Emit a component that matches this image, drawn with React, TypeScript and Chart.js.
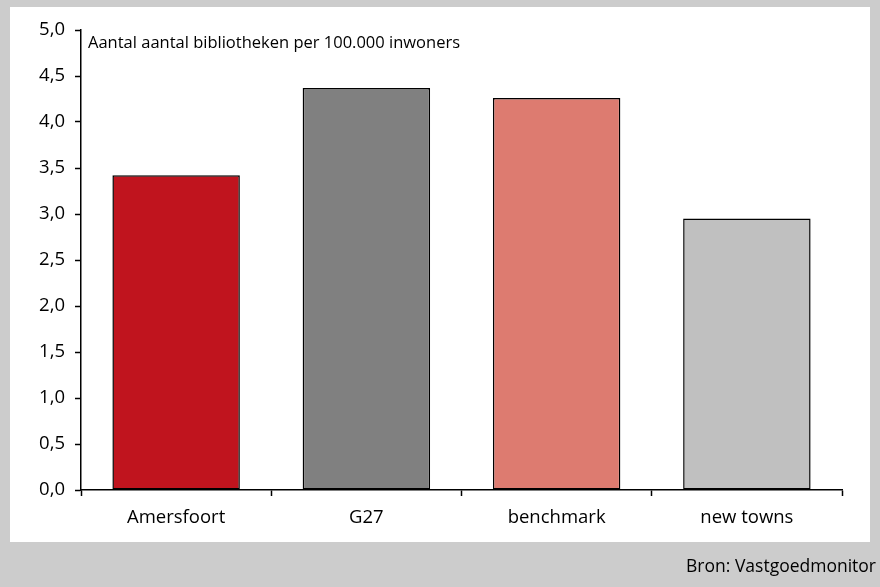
import React, { useEffect, useRef } from "react";
import { Chart, registerables } from "chart.js";

Chart.register(...registerables);

const categories = ["Amersfoort", "G27", "benchmark", "new towns"];
const values = [3.42, 4.37, 4.26, 2.95];
const barColors = ["#C0141E", "#808080", "#DD7B70", "#C0C0C0"];
const yTicks = [0, 0.5, 1, 1.5, 2, 2.5, 3, 3.5, 4, 4.5, 5];
const titleText = "Aantal aantal bibliotheken per 100.000 inwoners";
const sourceText = "Bron: Vastgoedmonitor";

const FONT = "'Open Sans', 'Noto Sans', sans-serif";

const framePlugin = {
  id: "frame",
  beforeDraw(chart: any) {
    const { ctx, width, height } = chart;
    ctx.save();
    ctx.fillStyle = "#CCCCCC";
    ctx.fillRect(0, 0, width, height);
    ctx.fillStyle = "#FFFFFF";
    ctx.fillRect(10, 7, 860, 535);
    ctx.restore();
  },
  afterDraw(chart: any) {
    const { ctx, chartArea } = chart;
    ctx.save();
    ctx.fillStyle = "#000000";
    ctx.font = `16.5px ${FONT}`;
    ctx.textBaseline = "middle";
    ctx.textAlign = "left";
    ctx.fillText(titleText, chartArea.left + 7, 43);
    ctx.font = `17.5px ${FONT}`;
    ctx.textAlign = "right";
    ctx.fillText(sourceText, 876, 567);
    ctx.restore();
  },
};

export default function App() {
  const ref = useRef<HTMLCanvasElement>(null);
  useEffect(() => {
    document.body.style.margin = "0";
    const chart = new Chart(ref.current!, {
      type: "bar",
      data: {
        labels: categories,
        datasets: [
          {
            data: values,
            backgroundColor: barColors,
            borderColor: "#000000",
            borderWidth: 1.5,
            borderSkipped: false,
            barPercentage: 0.67,
            categoryPercentage: 1,
          },
        ],
      },
      options: {
        animation: false,
        responsive: false,
        devicePixelRatio: 1,
        layout: { padding: { left: 10, right: 38, top: 30, bottom: 0 } },
        plugins: { legend: { display: false }, tooltip: { enabled: false }, title: { display: false } },
        scales: {
          x: {
            grid: { display: true, drawOnChartArea: false, drawTicks: true, tickLength: 6, tickColor: "#000", tickWidth: 1.5, offset: true },
            border: { color: "#000", width: 1.5 },
            ticks: { color: "#000", font: { family: FONT, size: 18.5 }, padding: 11, maxRotation: 0 },
            afterFit(scale: any) {
              scale.height = 97;
            },
          },
          y: {
            min: 0,
            max: 5,
            afterBuildTicks(scale: any) {
              scale.ticks = yTicks.map((v) => ({ value: v }));
            },
            grid: { display: true, drawOnChartArea: false, drawTicks: true, tickLength: 6, tickColor: "#000", tickWidth: 1.5 },
            border: { color: "#000", width: 1.5 },
            ticks: {
              color: "#000",
              font: { family: FONT, size: 18.5 },
              padding: 10,
              callback: (v: any) => Number(v).toFixed(1).replace(".", ","),
            },
            afterFit(scale: any) {
              scale.width = 71;
            },
          },
        },
      },
      plugins: [framePlugin],
    });
    return () => chart.destroy();
  }, []);
  return (
    <div style={{ width: 880, height: 587 }}>
      <canvas ref={ref} width={880} height={587} style={{ display: "block" }} />
    </div>
  );
}
